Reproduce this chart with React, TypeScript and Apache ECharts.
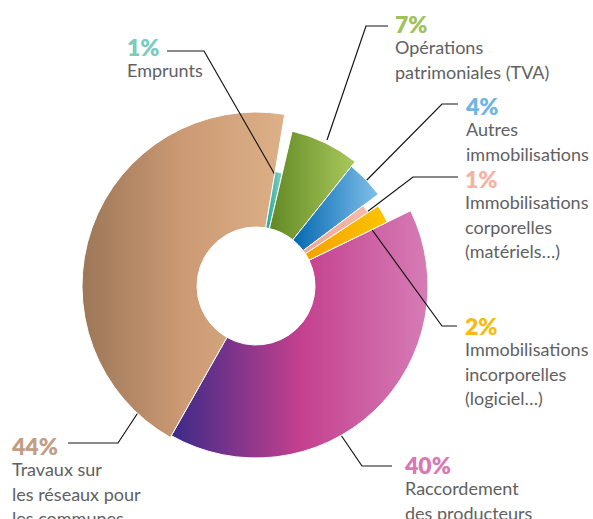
import React, { useEffect, useRef } from 'react';
import * as echarts from 'echarts';

// ---- data ----
const categories = [
  'Emprunts',
  'Opérations patrimoniales (TVA)',
  'Autres immobilisations',
  'Immobilisations corporelles (matériels…)',
  'Immobilisations incorporelles (logiciel…)',
  'Raccordement des producteurs',
  'Travaux sur les réseaux pour les communes',
];
const nameLines = [
  ['Emprunts'],
  ['Opérations', 'patrimoniales (TVA)'],
  ['Autres', 'immobilisations'],
  ['Immobilisations', 'corporelles', '(matériels…)'],
  ['Immobilisations', 'incorporelles', '(logiciel…)'],
  ['Raccordement', 'des producteurs'],
  ['Travaux sur', 'les réseaux pour', 'les communes'],
];
const values = [1, 7, 4, 1, 2, 40, 44];
const percentLabels = ['1%', '7%', '4%', '1%', '2%', '40%', '44%'];

// ---- styling / layout ----
const outerRadius = [116, 159, 153, 134, 146, 172, 174];
const labelColors = ['#7ccbbd', '#9fc35a', '#6fb5e6', '#f4b4a4', '#f8ba12', '#d679b5', '#c29e86'];
const gradientStops: string[][] = [
  ['#1aa897', '#8bd1c7'],
  ['#638824', '#a8c95c'],
  ['#0568b0', '#80c0ea'],
  ['#f0a595', '#f6b9ab'],
  ['#f4a200', '#fdc400'],
  ['#3b2a88', '#c4408e', '#d67cb5'],
  ['#9c7758', '#cc9a74', '#dcb088'],
];
const labelPos = [
  [127, 36], [395, 13], [466, 95], [465, 168], [465, 315], [405, 454], [12, 435],
];
const linePoints = [
  [[278, 180], [204, 51], [167, 51]],
  [[327, 140], [366, 26], [388, 26]],
  [[358, 189], [442, 104], [458, 104]],
  [[363, 215], [413, 177], [458, 177]],
  [[370, 227], [442, 326], [457, 326]],
  [[328, 416], [362, 466], [392, 466]],
  [[143, 405], [118, 443], [68, 443]],
];

function makeGradient(stops: string[]) {
  return new echarts.graphic.LinearGradient(
    0, 0, 1, 0,
    stops.map((c, k) => ({ offset: stops.length === 1 ? 0 : k / (stops.length - 1), color: c }))
  );
}

export default function App() {
  const ref = useRef<HTMLDivElement>(null);
  useEffect(() => {
    document.body.style.margin = '0';
    if (!ref.current) return;
    const chart = echarts.init(ref.current, undefined, { renderer: 'svg' });
    const series = values.map((_, i) => ({
      type: 'pie',
      z: i >= 5 ? 2 : 3,
      silent: true,
      center: [256, 286],
      radius: [59, outerRadius[i]],
      startAngle: 80.5,
      clockwise: true,
      avoidLabelOverlap: false,
      emphasis: { disabled: true },
      label: { show: false },
      labelLine: { show: false },
      data: values.map((v, j) =>
        j === i
          ? {
              value: v,
              name: categories[j],
              itemStyle: { color: makeGradient(gradientStops[j]), borderColor: '#ffffff', borderWidth: 1 },
              label: {
                show: true,
                position: 'outside',
                formatter: () =>
                  `{p|${percentLabels[j]}}\n` + nameLines[j].map((l) => `{n|${l}}`).join('\n'),
                rich: {
                  p: {
                    fontFamily: 'Lato',
                    fontWeight: 800,
                    fontSize: 23,
                    lineHeight: 22,
                    color: labelColors[j],
                    align: 'left',
                  },
                  n: {
                    fontFamily: 'Lato',
                    fontSize: 18,
                    lineHeight: 24.5,
                    color: '#616161',
                    align: 'left',
                  },
                },
              },
              labelLine: { show: true, smooth: false, lineStyle: { color: '#151515', width: 1.2 } },
            }
          : {
              value: v,
              name: categories[j],
              itemStyle: { color: 'rgba(0,0,0,0)', borderWidth: 0 },
              label: { show: false },
              labelLine: { show: false },
            }
      ),
      labelLayout: () => ({
        x: labelPos[i][0],
        y: labelPos[i][1],
        align: 'left',
        verticalAlign: 'top',
        labelLinePoints: linePoints[i],
      }),
    }));
    chart.setOption({
      animation: false,
      backgroundColor: '#ffffff',
      tooltip: { show: false },
      series,
    } as any);
    return () => chart.dispose();
  }, []);
  return <div ref={ref} style={{ width: 593, height: 519 }} />;
}
